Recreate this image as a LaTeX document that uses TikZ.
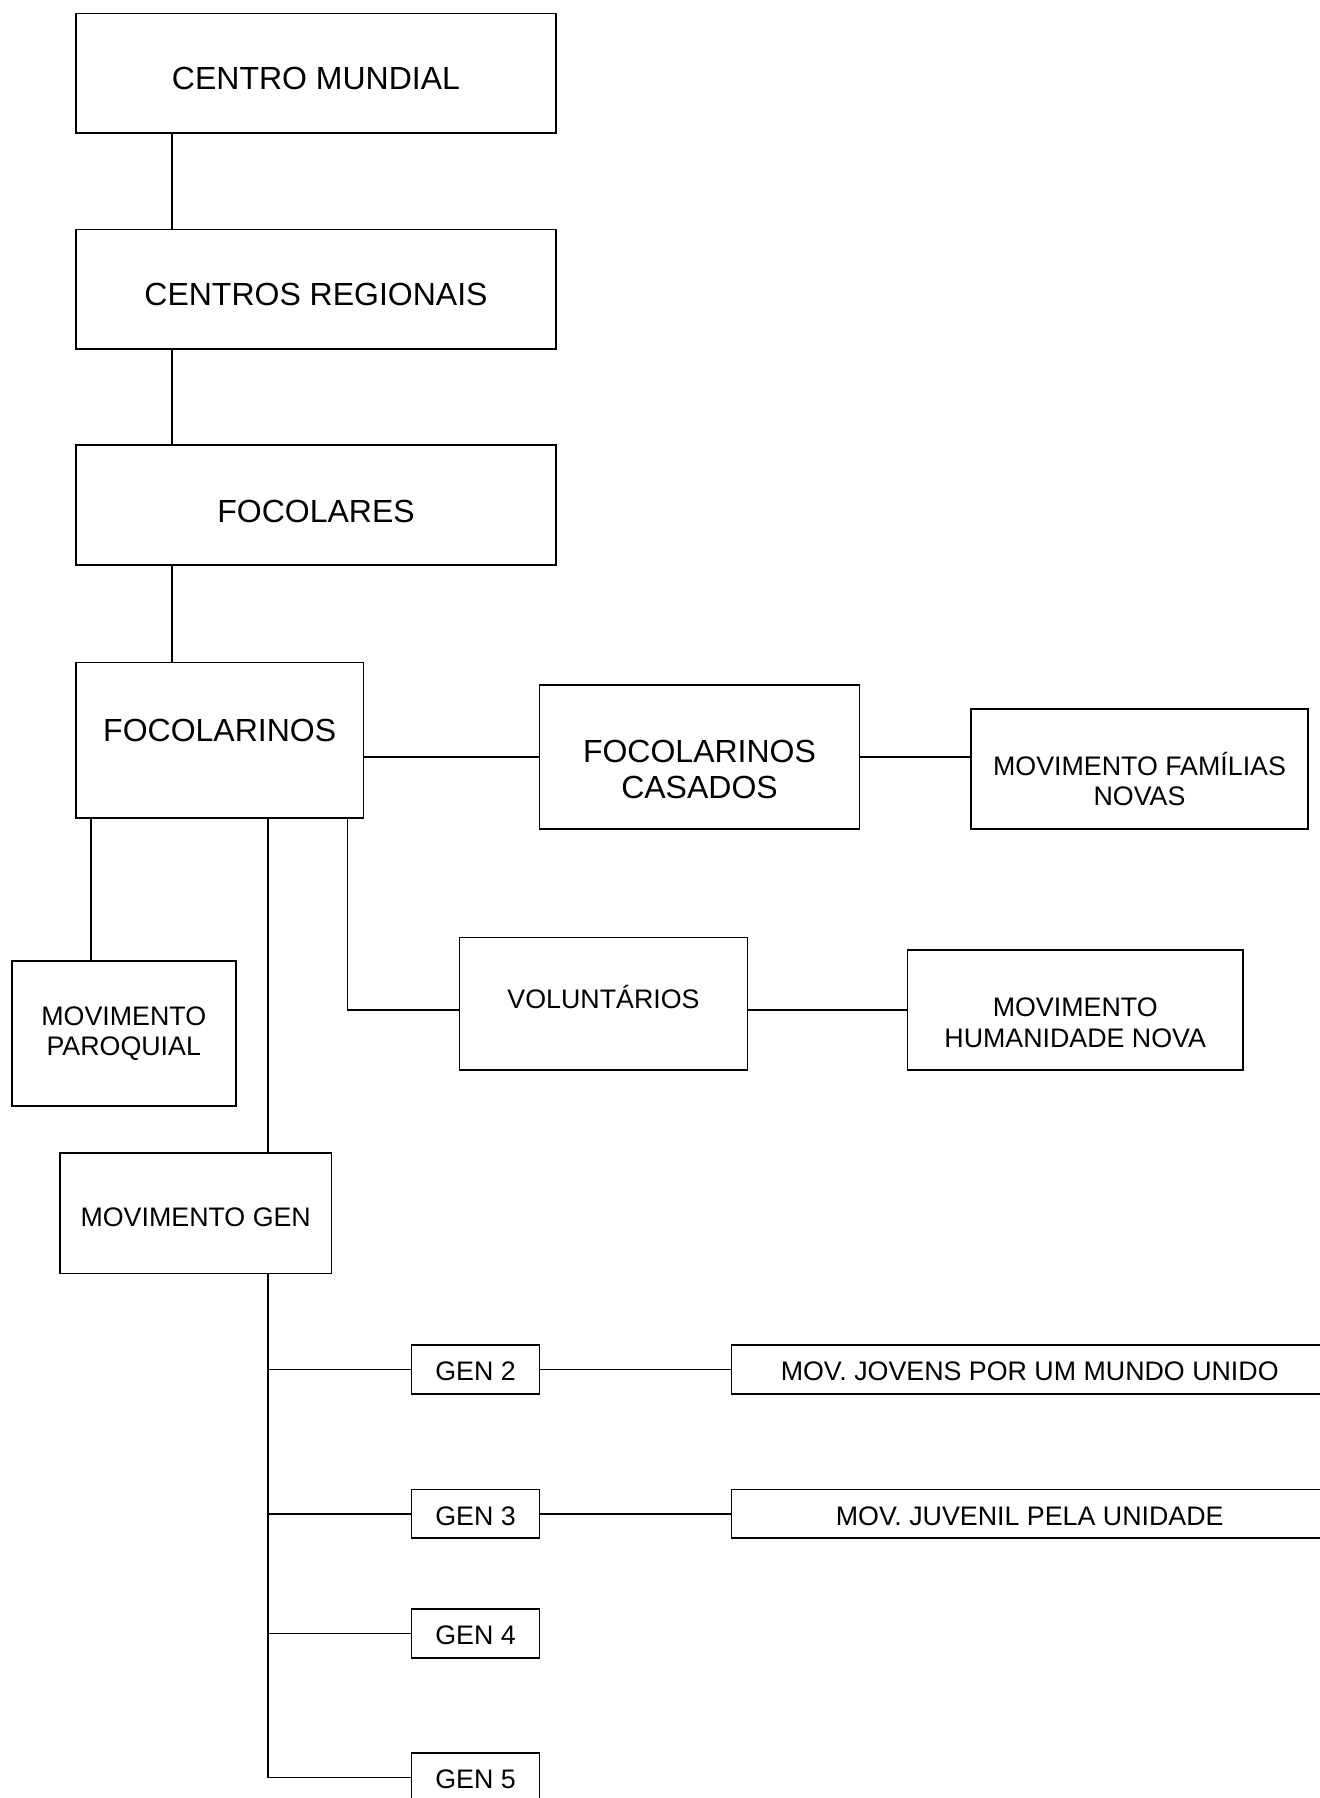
\documentclass[tikz,border=0pt]{standalone}
\usepackage{fontspec}
\setmainfont{Liberation Sans}

\begin{document}
\begin{tikzpicture}[x=0.5pt,y=-0.5pt,line width=0.8pt,
    caixa/.style={draw,rectangle,inner sep=0pt},
    grande/.style={font=\fontsize{16}{18}\selectfont,align=center},
    pequeno/.style={font=\fontsize{13.4}{15.3}\selectfont,align=center}]
      \useasboundingbox (0,0) rectangle (1320,1798);
      \clip (0,0) rectangle (1320,1798);
      \node[caixa,minimum width=240.2pt,minimum height=59.75pt,label={[grande,yshift=-2.75pt]center:CENTRO MUNDIAL}] (mundial) at (316,73.3) {};
      \node[caixa,minimum width=240.2pt,minimum height=59.7pt,label={[grande,yshift=-2.7pt]center:CENTROS REGIONAIS}] (regionais) at (316,289.3) {};
      \node[caixa,minimum width=240.2pt,minimum height=60pt,label={[grande,yshift=-3pt]center:FOCOLARES}] (focolares) at (316,505) {};
      \node[caixa,minimum width=143.9pt,minimum height=77.8pt,label={[grande,yshift=5pt]center:FOCOLARINOS}] (focolarinos) at (219.7,740.2) {};
      \node[caixa,minimum width=159.9pt,minimum height=72pt,label={[grande,yshift=-6pt]center:{FOCOLARINOS\\CASADOS}}] (casados) at (699.5,757) {};
      \node[caixa,minimum width=168.5pt,minimum height=60pt,label={[pequeno,yshift=-5pt]center:{MOVIMENTO FAMÍLIAS\\NOVAS}}] (familias) at (1139.5,769) {};
      \node[caixa,minimum width=112pt,minimum height=72.5pt,label={[pequeno]center:{MOVIMENTO\\PAROQUIAL}}] (paroquial) at (123.75,1033.5) {};
      \node[caixa,minimum width=144pt,minimum height=66.25pt,label={[pequeno,yshift=3.2pt]center:VOLUNTÁRIOS}] (voluntarios) at (603.5,1003.7) {};
      \node[caixa,minimum width=167.8pt,minimum height=60pt,label={[pequeno,yshift=-6.5pt]center:{MOVIMENTO\\HUMANIDADE NOVA}}] (humanidade) at (1075.2,1010) {};
      \node[caixa,minimum width=135.9pt,minimum height=60.3pt,label={[pequeno,yshift=-1.85pt]center:MOVIMENTO GEN}] (gen) at (195.7,1213.3) {};
      \node[caixa,minimum width=64pt,minimum height=24.35pt,label={[pequeno,yshift=-1pt]center:GEN 2}] (gen2) at (475.6,1369.4) {};
      \node[caixa,minimum width=298.25pt,minimum height=24.35pt,label={[pequeno,yshift=-1pt]center:MOV. JOVENS POR UM MUNDO UNIDO}] (jovens) at (1029.7,1369.4) {};
      \node[caixa,minimum width=64pt,minimum height=24.35pt,label={[pequeno,yshift=-1pt]center:GEN 3}] (gen3) at (475.6,1513.8) {};
      \node[caixa,minimum width=298.25pt,minimum height=24.35pt,label={[pequeno,yshift=-1pt]center:MOV. JUVENIL PELA UNIDADE}] (juvenil) at (1029.7,1513.8) {};
      \node[caixa,minimum width=64pt,minimum height=24.35pt,label={[pequeno,yshift=-1pt]center:GEN 4}] (gen4) at (475.6,1633.4) {};
      \node[caixa,minimum width=64pt,minimum height=24.35pt,label={[pequeno,yshift=-1pt]center:GEN 5}] (gen5) at (475.6,1777.4) {};
      \coordinate (eixo) at (172,0);
      \coordinate (ramo1) at (91,0);
      \coordinate (ramo2) at (267.7,0);
      \coordinate (ramo3) at (347.6,0);
      \draw (mundial.south -| eixo) -- (regionais.north -| eixo);
      \draw (regionais.south -| eixo) -- (focolares.north -| eixo);
      \draw (focolares.south -| eixo) -- (focolarinos.north -| eixo);
      \draw (focolarinos.east |- casados.west) -- (casados.west);
      \draw (casados.east) -- (casados.east -| familias.west);
      \draw (focolarinos.south -| ramo1) -- (paroquial.north -| ramo1);
      \draw (focolarinos.south -| ramo2) -- (gen.north -| ramo2);
      \draw (focolarinos.south -| ramo3) |- (voluntarios.west |- humanidade.west);
      \draw (voluntarios.east |- humanidade.west) -- (humanidade.west);
      \draw (gen.south -| ramo2) |- (gen5.west);
      \foreach \g in {gen2,gen3,gen4}
        \draw (ramo2 |- \g.west) -- (\g.west);
      \draw (gen2.east) -- (jovens.west);
      \draw (gen3.east) -- (juvenil.west);
    \end{tikzpicture}
\end{document}
